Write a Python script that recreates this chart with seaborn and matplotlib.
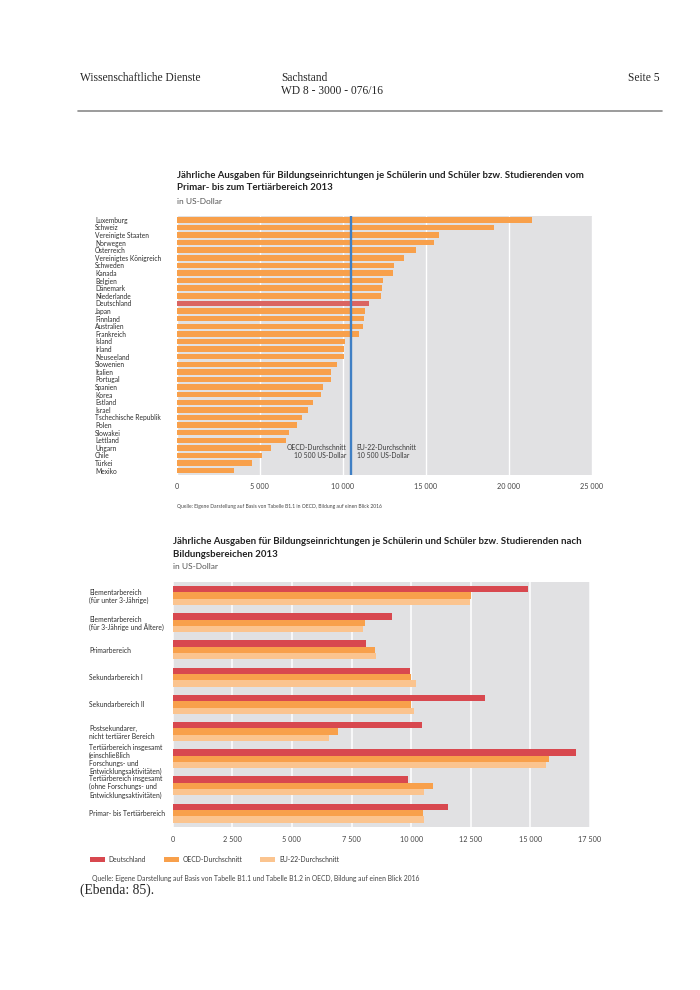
import pandas as pd
import matplotlib.pyplot as plt
import seaborn as sns
from matplotlib.patches import Patch

# Daten Grafik 1: Ausgaben je Schüler/Studierenden, Primar- bis Tertiärbereich 2013
laender = ["Luxemburg", "Schweiz", "Vereinigte Staaten", "Norwegen", "Österreich",
           "Vereinigtes Königreich", "Schweden", "Kanada", "Belgien", "Dänemark",
           "Niederlande", "Deutschland", "Japan", "Finnland", "Australien",
           "Frankreich", "Island", "Irland", "Neuseeland", "Slowenien", "Italien",
           "Portugal", "Spanien", "Korea", "Estland", "Israel",
           "Tschechische Republik", "Polen", "Slowakei", "Lettland", "Ungarn",
           "Chile", "Türkei", "Mexiko"]
ausgaben = [21400, 19100, 15800, 15500, 14400, 13700, 13100, 13000, 12450, 12350,
            12300, 11600, 11350, 11250, 11200, 10950, 10120, 10100, 10080, 9640,
            9280, 9280, 8820, 8710, 8190, 7890, 7550, 7230, 6780, 6580, 5640,
            5150, 4530, 3420]
oecd_schnitt = 10500
ticks1 = [0, 5000, 10000, 15000, 20000, 25000]
ticklabels1 = ["0", "5 000", "10 000", "15 000", "20 000", "25 000"]

# Daten Grafik 2: Ausgaben nach Bildungsbereichen 2013
bereiche = ["Elementarbereich\n(für unter 3-Jährige)",
            "Elementarbereich\n(für 3-Jährige und Ältere)",
            "Primarbereich",
            "Sekundarbereich I",
            "Sekundarbereich II",
            "Postsekundarer,\nnicht tertiärer Bereich",
            "Tertiärbereich insgesamt\n(einschließlich\nForschungs- und\nEntwicklungsaktivitäten)",
            "Tertiärbereich insgesamt\n(ohne Forschungs- und\nEntwicklungsaktivitäten)",
            "Primar- bis Tertiärbereich"]
deutschland = [14900, 9180, 8090, 9950, 13080, 10470, 16900, 9880, 11560]
oecd = [12500, 8060, 8470, 9980, 10000, 6920, 15770, 10930, 10510]
eu22 = [12460, 7960, 8540, 10210, 10100, 6540, 15650, 10550, 10550]
gruppen = ["Deutschland", "OECD-Durchschnitt", "EU-22-Durchschnitt"]
ticks2 = [0, 2500, 5000, 7500, 10000, 12500, 15000, 17500]
ticklabels2 = ["0", "2 500", "5 000", "7 500", "10 000", "12 500", "15 000", "17 500"]

# Farben
orange = "#F8A04B"
rot_hell = "#DA6461"
rot = "#D8484F"
orange_hell = "#FBC48F"
grau = "#E1E1E3"
blau = "#3F7FC4"
textgrau = "#2E2E2E"

sns.set_style("white")
plt.rcParams["font.family"] = ["Lato", "DejaVu Sans"]

W, H = 700, 990
fig = plt.figure(figsize=(7, 9.9), dpi=100)


def box(x0, y0, x1, y1):
    return [x0 / W, 1 - y1 / H, (x1 - x0) / W, (y1 - y0) / H]


def ftext(x, y, s, **kw):
    fig.text(x / W, 1 - y / H, s, **kw)


# Seitenkopf
serif = ["Liberation Serif", "DejaVu Serif"]
ftext(80, 78, "Wissenschaftliche Dienste", family=serif, fontsize=8.3, va="center")
ftext(281, 78, "Sachstand", family=serif, fontsize=8.3, va="center")
ftext(281, 91, "WD 8 - 3000 - 076/16", family=serif, fontsize=8.3, va="center")
ftext(660, 78, "Seite 5", family=serif, fontsize=8.3, va="center", ha="right")
fig.add_artist(plt.Line2D([78 / W, 662 / W], [1 - 110.5 / H] * 2, color="#8a8a8a", lw=1.2))

# Grafik 1
ftext(177, 175, "Jährliche Ausgaben für Bildungseinrichtungen je Schülerin und Schüler bzw. Studierenden vom",
      fontsize=6.9, fontweight="bold", color="#222222", va="center")
ftext(177, 188, "Primar- bis zum Tertiärbereich 2013",
      fontsize=6.9, fontweight="bold", color="#222222", va="center")
ftext(177, 201, "in US-Dollar", fontsize=6.0, color="#555555", va="center")

ax1 = fig.add_axes(box(177, 216, 591.5, 474.5))
df1 = pd.DataFrame({"Land": laender, "Ausgaben": ausgaben})
farben1 = [rot_hell if l == "Deutschland" else orange for l in laender]
sns.barplot(data=df1, x="Ausgaben", y="Land", hue="Land", palette=farben1,
            legend=False, width=0.72, saturation=1, linewidth=0, ax=ax1)
ax1.set_facecolor(grau)
ax1.set_xlim(0, 25000)
ax1.set_ylim(len(laender) - 0.5, -0.5)
ax1.set_xticks(ticks1)
ax1.set_xticklabels(ticklabels1)
ax1.grid(axis="x", color="white", lw=1)
ax1.grid(axis="y", visible=False)
ax1.set_axisbelow(True)
ax1.set_xlabel("")
ax1.set_ylabel("")
for s in ax1.spines.values():
    s.set_visible(False)
ax1.tick_params(axis="y", length=0, pad=59, labelsize=4.8, labelcolor=textgrau)
ax1.tick_params(axis="x", length=0, pad=6, labelsize=5.2, labelcolor="#444444")
for lbl in ax1.get_yticklabels():
    lbl.set_ha("left")
ax1.axvline(oecd_schnitt, color=blau, lw=1.7)
ax1.annotate("OECD-Durchschnitt\n10 500 US-Dollar", xy=(oecd_schnitt, 30.5),
             xytext=(-3.5, 0), textcoords="offset points", ha="right", va="center",
             fontsize=4.9, color="#3a3a3a", linespacing=1.25)
ax1.annotate("EU-22-Durchschnitt\n10 500 US-Dollar", xy=(oecd_schnitt, 30.5),
             xytext=(4, 0), textcoords="offset points", ha="left", va="center",
             fontsize=4.9, color="#3a3a3a", linespacing=1.25)
ftext(177, 507, "Quelle: Eigene Darstellung auf Basis von Tabelle B1.1 in OECD, Bildung auf einen Blick 2016",
      fontsize=3.6, color="#444444", va="center")

# Grafik 2
ftext(173, 542, "Jährliche Ausgaben für Bildungseinrichtungen je Schülerin und Schüler bzw. Studierenden nach",
      fontsize=6.9, fontweight="bold", color="#222222", va="center")
ftext(173, 554.5, "Bildungsbereichen 2013",
      fontsize=6.9, fontweight="bold", color="#222222", va="center")
ftext(173, 566.5, "in US-Dollar", fontsize=6.0, color="#555555", va="center")

ax2 = fig.add_axes(box(172.7, 582, 590, 826.7))
df2 = pd.DataFrame({"Bereich": bereiche * 3,
                    "Gruppe": [g for g in gruppen for _ in bereiche],
                    "Ausgaben": deutschland + oecd + eu22})
sns.barplot(data=df2, x="Ausgaben", y="Bereich", hue="Gruppe", hue_order=gruppen,
            palette=[rot, orange, orange_hell], width=0.7, saturation=1,
            linewidth=0, ax=ax2)
ax2.set_facecolor(grau)
ax2.set_xlim(0, 17500)
ax2.set_ylim(len(bereiche) - 0.5, -0.5)
ax2.set_xticks(ticks2)
ax2.set_xticklabels(ticklabels2)
ax2.grid(axis="x", color="white", lw=1.1)
ax2.grid(axis="y", visible=False)
ax2.set_axisbelow(True)
ax2.set_xlabel("")
ax2.set_ylabel("")
for s in ax2.spines.values():
    s.set_visible(False)
ax2.tick_params(axis="y", length=0, pad=60.3, labelsize=4.9, labelcolor=textgrau)
ax2.tick_params(axis="x", length=0, pad=6.5, labelsize=5.2, labelcolor="#444444")
for lbl in ax2.get_yticklabels():
    lbl.set_ha("left")
    lbl.set_linespacing(1.15)
ax2.legend_.remove()
handles = [Patch(color=c, lw=0) for c in [rot, orange, orange_hell]]
fig.legend(handles, gruppen, loc="center left", bbox_to_anchor=(87 / W, 1 - 859 / H),
           ncol=3, frameon=False, fontsize=4.9, handlelength=2.2, handleheight=0.8,
           handletextpad=0.6, columnspacing=2.6, labelcolor="#3a3a3a", borderaxespad=0)
ftext(92, 878, "Quelle: Eigene Darstellung auf Basis von Tabelle B1.1 und Tabelle B1.2 in OECD, Bildung auf einen Blick 2016",
      fontsize=4.9, color="#444444", va="center")

ftext(80, 890, "(Ebenda: 85).", family=serif, fontsize=9.8, va="center")

fig.savefig("out.png", dpi=100)
